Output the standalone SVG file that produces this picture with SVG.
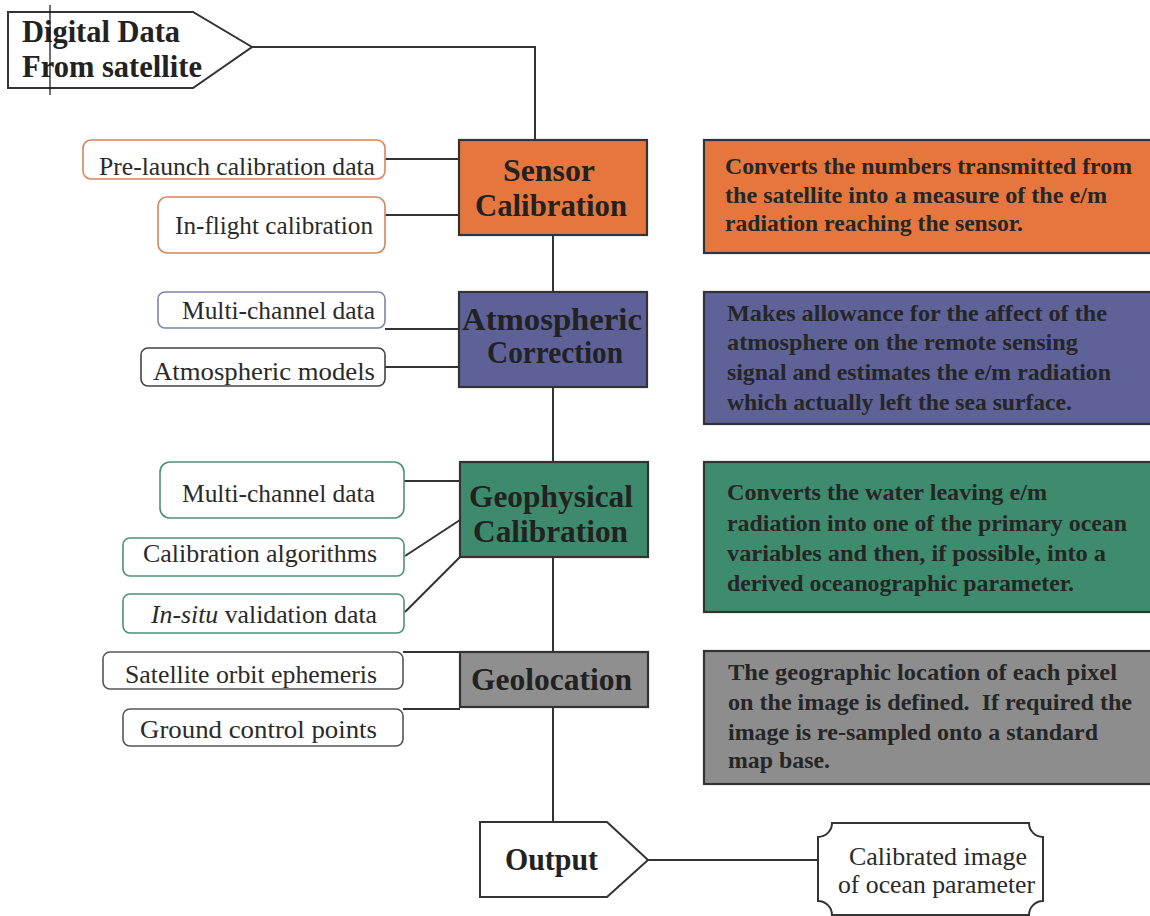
<svg xmlns="http://www.w3.org/2000/svg" width="1150" height="916" viewBox="0 0 1150 916">
<style>
.t{font-family:'Liberation Serif','Times New Roman',Times,serif;fill:#222}
.b{font-weight:bold}
.h{font-size:31px;font-weight:bold;fill:#222;font-family:'Liberation Serif','Times New Roman',Times,serif}
.d{font-size:24px;font-weight:bold;fill:#262626;font-family:'Liberation Serif','Times New Roman',Times,serif}
.i{font-size:26px;font-family:'Liberation Serif','Times New Roman',Times,serif;fill:#2a2a2a}
.box{stroke:#333;stroke-width:2.2}
.inp{fill:#fff;stroke-width:1.6}
.ln{stroke:#333;stroke-width:2;fill:none}
</style>
<rect width="1150" height="916" fill="#fff"/>
<g id="connectors">
<polyline class="ln" points="252,47 535,47 535,140"/>
<line class="ln" x1="385" y1="159" x2="459" y2="159"/>
<line class="ln" x1="385" y1="215" x2="459" y2="215"/>
<line class="ln" x1="553" y1="235" x2="553" y2="292"/>
<line class="ln" x1="385" y1="329" x2="459" y2="329"/>
<line class="ln" x1="385" y1="367" x2="459" y2="367"/>
<line class="ln" x1="553" y1="387" x2="553" y2="462"/>
<line class="ln" x1="404" y1="481" x2="460" y2="481"/>
<line class="ln" x1="405" y1="556" x2="460" y2="520"/>
<line class="ln" x1="405" y1="612" x2="460" y2="557"/>
<line class="ln" x1="553" y1="557" x2="553" y2="652"/>
<line class="ln" x1="403" y1="652" x2="460" y2="652"/>
<line class="ln" x1="403" y1="709" x2="460" y2="709"/>
<line class="ln" x1="553" y1="707" x2="553" y2="822"/>
<line class="ln" x1="648" y1="860" x2="818" y2="860"/>
</g>
<g id="digital-data">
<polygon points="8,12 193,12 252,47 193,88 8,88" fill="#fff" stroke="#333" stroke-width="2"/>
<text class="t b" x="22" y="42" font-size="31" textLength="158" lengthAdjust="spacingAndGlyphs">Digital Data</text>
<text class="t b" x="22" y="77" font-size="31" textLength="180" lengthAdjust="spacingAndGlyphs">From satellite</text>
<line x1="50" y1="5" x2="50" y2="95" stroke="#111" stroke-width="1.2"/>
</g>
<g id="pre-launch">
<rect class="inp" x="83" y="140" width="302" height="39" rx="8" stroke="#d9845a"/>
<text class="i" x="99" y="175" textLength="276" lengthAdjust="spacingAndGlyphs">Pre-launch calibration data</text>
</g>
<g id="in-flight">
<rect class="inp" x="158" y="197" width="227" height="56" rx="9" stroke="#d9845a"/>
<text class="i" x="175" y="234" textLength="198" lengthAdjust="spacingAndGlyphs">In-flight calibration</text>
</g>
<g id="sensor-calibration">
<rect class="box" x="459" y="140" width="188" height="95" fill="#e5773e"/>
<text class="h" x="503" y="181" textLength="92" lengthAdjust="spacingAndGlyphs">Sensor</text>
<text class="h" x="475" y="216" textLength="152" lengthAdjust="spacingAndGlyphs">Calibration</text>
</g>
<g id="sensor-desc">
<rect class="box" x="704" y="140" width="450" height="113" fill="#e5773e"/>
<text class="d" x="725" y="174" textLength="407" lengthAdjust="spacingAndGlyphs">Converts the numbers transmitted from</text>
<text class="d" x="725" y="203" textLength="382" lengthAdjust="spacingAndGlyphs">the satellite into a measure of the e/m</text>
<text class="d" x="725" y="231" textLength="298" lengthAdjust="spacingAndGlyphs">radiation reaching the sensor.</text>
</g>
<g id="multi-channel-1">
<rect class="inp" x="158" y="292" width="227" height="36" rx="7" stroke="#7e84a8"/>
<text class="i" x="182" y="319" textLength="193" lengthAdjust="spacingAndGlyphs">Multi-channel data</text>
</g>
<g id="atmospheric-models">
<rect class="inp" x="141" y="348" width="244" height="38" rx="7" stroke="#444"/>
<text class="i" x="153" y="380" textLength="222" lengthAdjust="spacingAndGlyphs">Atmospheric models</text>
</g>
<g id="atmospheric-correction">
<rect class="box" x="459" y="292" width="188" height="95" fill="#5d6198"/>
<text class="h" x="462" y="330" textLength="180" lengthAdjust="spacingAndGlyphs">Atmospheric</text>
<text class="h" x="487" y="363" textLength="136" lengthAdjust="spacingAndGlyphs">Correction</text>
</g>
<g id="atmospheric-desc">
<rect class="box" x="704" y="292" width="450" height="132" fill="#5e6297"/>
<text class="d" x="727" y="321" textLength="380" lengthAdjust="spacingAndGlyphs">Makes allowance for the affect of the</text>
<text class="d" x="727" y="350" textLength="351" lengthAdjust="spacingAndGlyphs">atmosphere on the remote sensing</text>
<text class="d" x="727" y="380" textLength="384" lengthAdjust="spacingAndGlyphs">signal and estimates the e/m radiation</text>
<text class="d" x="727" y="410" textLength="345" lengthAdjust="spacingAndGlyphs">which actually left the sea surface.</text>
</g>
<g id="multi-channel-2">
<rect class="inp" x="160" y="462" width="244" height="56" rx="10" stroke="#4e9078"/>
<text class="i" x="182" y="502" textLength="193" lengthAdjust="spacingAndGlyphs">Multi-channel data</text>
</g>
<g id="calibration-algorithms">
<rect class="inp" x="123" y="538" width="281" height="38" rx="7" stroke="#4e9078"/>
<text class="i" x="143" y="562" textLength="234" lengthAdjust="spacingAndGlyphs">Calibration algorithms</text>
</g>
<g id="in-situ">
<rect class="inp" x="123" y="594" width="281" height="39" rx="7" stroke="#4e9078"/>
<text class="i" x="151" y="623" textLength="226" lengthAdjust="spacingAndGlyphs"><tspan font-style="italic">In-situ</tspan> validation data</text>
</g>
<g id="geophysical-calibration">
<rect class="box" x="460" y="462" width="188" height="95" fill="#3e8a6c"/>
<text class="h" x="469" y="507" textLength="164" lengthAdjust="spacingAndGlyphs">Geophysical</text>
<text class="h" x="473" y="542" textLength="155" lengthAdjust="spacingAndGlyphs">Calibration</text>
</g>
<g id="geophysical-desc">
<rect class="box" x="704" y="462" width="450" height="150" fill="#3f8b6d"/>
<text class="d" x="727" y="500" textLength="320" lengthAdjust="spacingAndGlyphs">Converts the water leaving e/m</text>
<text class="d" x="727" y="531" textLength="400" lengthAdjust="spacingAndGlyphs">radiation into one of the primary ocean</text>
<text class="d" x="727" y="561" textLength="379" lengthAdjust="spacingAndGlyphs">variables and then, if possible, into a</text>
<text class="d" x="727" y="591" textLength="347" lengthAdjust="spacingAndGlyphs">derived oceanographic parameter.</text>
</g>
<g id="satellite-orbit">
<rect class="inp" x="103" y="652" width="300" height="37" rx="7" stroke="#555"/>
<text class="i" x="125" y="683" textLength="252" lengthAdjust="spacingAndGlyphs">Satellite orbit ephemeris</text>
</g>
<g id="ground-control">
<rect class="inp" x="123" y="709" width="280" height="37" rx="7" stroke="#555"/>
<text class="i" x="140" y="738" textLength="237" lengthAdjust="spacingAndGlyphs">Ground control points</text>
</g>
<g id="geolocation">
<rect class="box" x="460" y="652" width="188" height="55" fill="#8f8f8f"/>
<text class="h" x="471" y="690" textLength="161" lengthAdjust="spacingAndGlyphs">Geolocation</text>
</g>
<g id="geolocation-desc">
<rect class="box" x="704" y="651" width="450" height="133" fill="#8d8d8d"/>
<text class="d" x="728" y="680" textLength="389" lengthAdjust="spacingAndGlyphs">The geographic location of each pixel</text>
<text class="d" x="728" y="710" textLength="404" lengthAdjust="spacingAndGlyphs" xml:space="preserve">on the image is defined.  If required the</text>
<text class="d" x="728" y="740" textLength="370" lengthAdjust="spacingAndGlyphs">image is re-sampled onto a standard</text>
<text class="d" x="728" y="768" textLength="102" lengthAdjust="spacingAndGlyphs">map base.</text>
</g>
<g id="output">
<polygon points="480,822 607,822 648,860 607,897 480,897" fill="#fff" stroke="#333" stroke-width="2"/>
<text class="h" x="505" y="870" textLength="93" lengthAdjust="spacingAndGlyphs">Output</text>
</g>
<g id="calibrated-image">
<path d="M832,823 L1029,823 A14,14 0 0 0 1043,837 L1043,901 A14,14 0 0 0 1029,915 L832,915 A14,14 0 0 0 818,901 L818,837 A14,14 0 0 0 832,823 Z" fill="#fff" stroke="#333" stroke-width="2"/>
<text class="i" x="849" y="865" textLength="178" lengthAdjust="spacingAndGlyphs">Calibrated image</text>
<text class="i" x="838" y="893" textLength="197" lengthAdjust="spacingAndGlyphs">of ocean parameter</text>
</g>
</svg>
